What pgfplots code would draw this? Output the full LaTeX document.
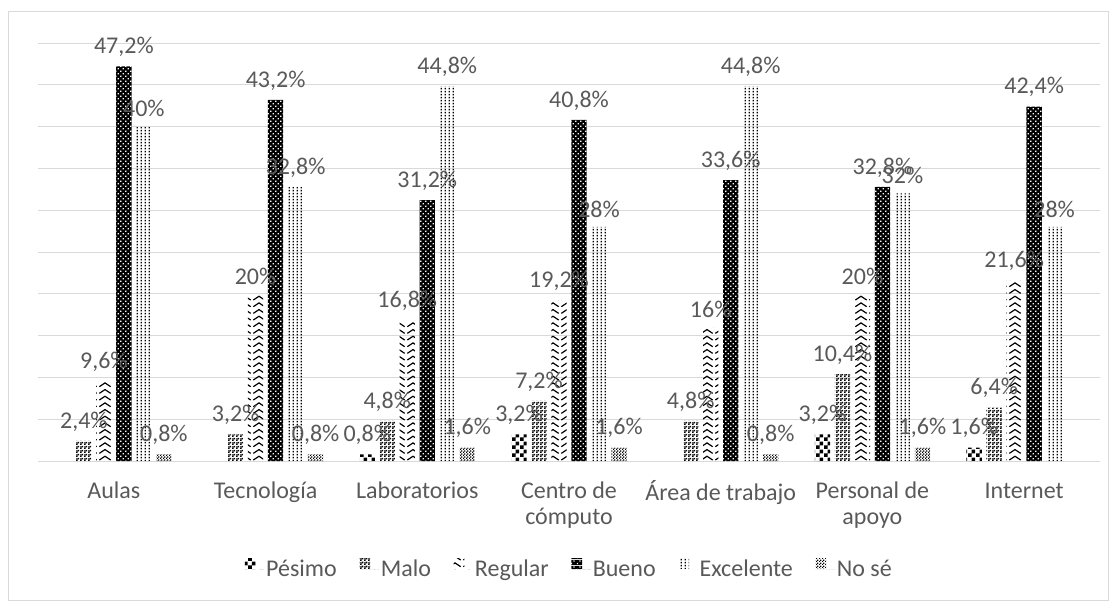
\documentclass[border=0pt]{standalone}
\usepackage{pgfplots}
\pgfplotsset{compat=1.18}
\usepackage{fontspec}
\setmainfont{Carlito}
\usetikzlibrary{patterns}

\definecolor{txt}{HTML}{595959}
\definecolor{grd}{HTML}{D9D9D9}

% fill patterns, roughly as in the original chart
\pgfdeclarepatternformonly{pesimo}{\pgfpointorigin}{\pgfqpoint{6pt}{6pt}}{\pgfqpoint{6pt}{6pt}}{%
  \pgfpathrectangle{\pgfpointorigin}{\pgfqpoint{3pt}{3pt}}%
  \pgfpathrectangle{\pgfqpoint{3pt}{3pt}}{\pgfqpoint{3pt}{3pt}}%
  \pgfusepath{fill}}
\pgfdeclarepatternformonly{malo}{\pgfpointorigin}{\pgfqpoint{3pt}{3pt}}{\pgfqpoint{3pt}{3pt}}{%
  \pgfpathrectangle{\pgfpointorigin}{\pgfqpoint{1.5pt}{1.5pt}}%
  \pgfpathrectangle{\pgfqpoint{1.5pt}{1.5pt}}{\pgfqpoint{1.5pt}{1.5pt}}%
  \pgfpathrectangle{\pgfqpoint{0.4pt}{1.9pt}}{\pgfqpoint{0.7pt}{0.7pt}}%
  \pgfusepath{fill}}
\pgfdeclarepatternformonly{regular}{\pgfqpoint{-0.5pt}{-0.5pt}}{\pgfqpoint{11pt}{5.5pt}}{\pgfqpoint{10.5pt}{5pt}}{%
  \pgfsetlinewidth{0.9pt}%
  \pgfpathmoveto{\pgfqpoint{1pt}{1pt}}%
  \pgfpathlineto{\pgfqpoint{5.25pt}{3.8pt}}%
  \pgfpathlineto{\pgfqpoint{9.5pt}{1pt}}%
  \pgfusepath{stroke}}
\pgfdeclarepatterninherentlycolored{bueno}{\pgfpointorigin}{\pgfqpoint{4pt}{4pt}}{\pgfqpoint{4pt}{4pt}}{%
  \pgfsetfillcolor{black}%
  \pgfpathrectangle{\pgfpointorigin}{\pgfqpoint{4pt}{4pt}}\pgfusepath{fill}%
  \pgfsetfillcolor{white}%
  \pgfpathrectangle{\pgfqpoint{0.6pt}{0.6pt}}{\pgfqpoint{1pt}{1pt}}%
  \pgfpathrectangle{\pgfqpoint{2.6pt}{2.6pt}}{\pgfqpoint{1pt}{1pt}}%
  \pgfusepath{fill}}
\pgfdeclarepatternformonly{excelente}{\pgfpointorigin}{\pgfqpoint{3pt}{2.2pt}}{\pgfqpoint{3pt}{2.2pt}}{%
  \pgfpathrectangle{\pgfqpoint{0.5pt}{0.5pt}}{\pgfqpoint{1.2pt}{1.1pt}}%
  \pgfusepath{fill}}
\pgfdeclarepatternformonly{nose}{\pgfpointorigin}{\pgfqpoint{2pt}{2pt}}{\pgfqpoint{2pt}{2pt}}{%
  \pgfpathrectangle{\pgfpointorigin}{\pgfqpoint{1pt}{1pt}}%
  \pgfpathrectangle{\pgfqpoint{1pt}{1pt}}{\pgfqpoint{1pt}{1pt}}%
  \pgfusepath{fill}}

\begin{document}
\begin{tikzpicture}
\begin{axis}[
    name=ax,
    scale only axis,
    width=796.5pt, height=313.5pt,
    ybar=3.5pt,
    bar width=11.5pt,
    ymin=0, ymax=50,
    xmin=-0.5, xmax=6.5,
    ytick={0,5,...,50},
    yticklabels={},
    xtick={0,...,6},
    xticklabels={Aulas,Tecnología,Laboratorios,{Centro de\\cómputo},Área de trabajo,{Personal de\\apoyo},Internet},
    typeset ticklabels with strut,
    xticklabel style={align=center, text=txt, font=\fontsize{18}{19.5}\selectfont, yshift=-11pt},
    major tick length=0pt,
    ymajorgrids,
    grid style={grd, line width=0.75pt},
    axis line style={draw=none},
    clip=false,
    nodes near coords={\pgfmathprintnumber[use comma, assume math mode=true]{\pgfplotspointmeta}\%},
    nodes near coords style={text=txt, font=\fontsize{18}{21}\selectfont, inner sep=2pt, yshift=5pt},
    legend style={at={(0.5,-0.2584)}, anchor=center, draw=none, legend columns=-1,
        font=\fontsize{18}{21}\selectfont, text=txt,
        /tikz/every even column/.append style={column sep=16pt},
        nodes={inner sep=1pt}},
    legend image code/.code={%
        \path[#1] (0pt,0.5pt) rectangle (8pt,8.5pt);
        \path (0pt,0pt) -- (15pt,0pt);},
  ]
\addplot[draw=none, pattern=pesimo, pattern color=black]
  coordinates {(2,0.8) (3,3.2) (5,3.2) (6,1.6)};
\addplot[draw=none, pattern=malo, pattern color=black]
  coordinates {(0,2.4) (1,3.2) (2,4.8) (3,7.2) (4,4.8) (5,10.4) (6,6.4)};
\addplot[draw=none, pattern=regular, pattern color=black]
  coordinates {(0,9.6) (1,20) (2,16.8) (3,19.2) (4,16) (5,20) (6,21.6)};
\addplot[draw=none, pattern=bueno]
  coordinates {(0,47.2) (1,43.2) (2,31.2) (3,40.8) (4,33.6) (5,32.8) (6,42.4)};
\addplot[draw=none, pattern=excelente, pattern color=black]
  coordinates {(0,40) (1,32.8) (2,44.8) (3,28) (4,44.8) (5,32) (6,28)};
\addplot[draw=none, pattern=nose, pattern color=black]
  coordinates {(0,0.8) (1,0.8) (2,1.6) (3,1.6) (4,0.8) (5,1.6)};
\legend{Pésimo,Malo,Regular,Bueno,Excelente,No sé}
\end{axis}
\draw[grd, line width=0.75pt] ([shift={(-22.5pt,-104.25pt)}]ax.south west) rectangle ([shift={(6pt,23.25pt)}]ax.north east);
\path ([shift={(-28.5pt,-110.25pt)}]ax.south west) rectangle ([shift={(12pt,32.25pt)}]ax.north east);
\end{tikzpicture}
\end{document}
